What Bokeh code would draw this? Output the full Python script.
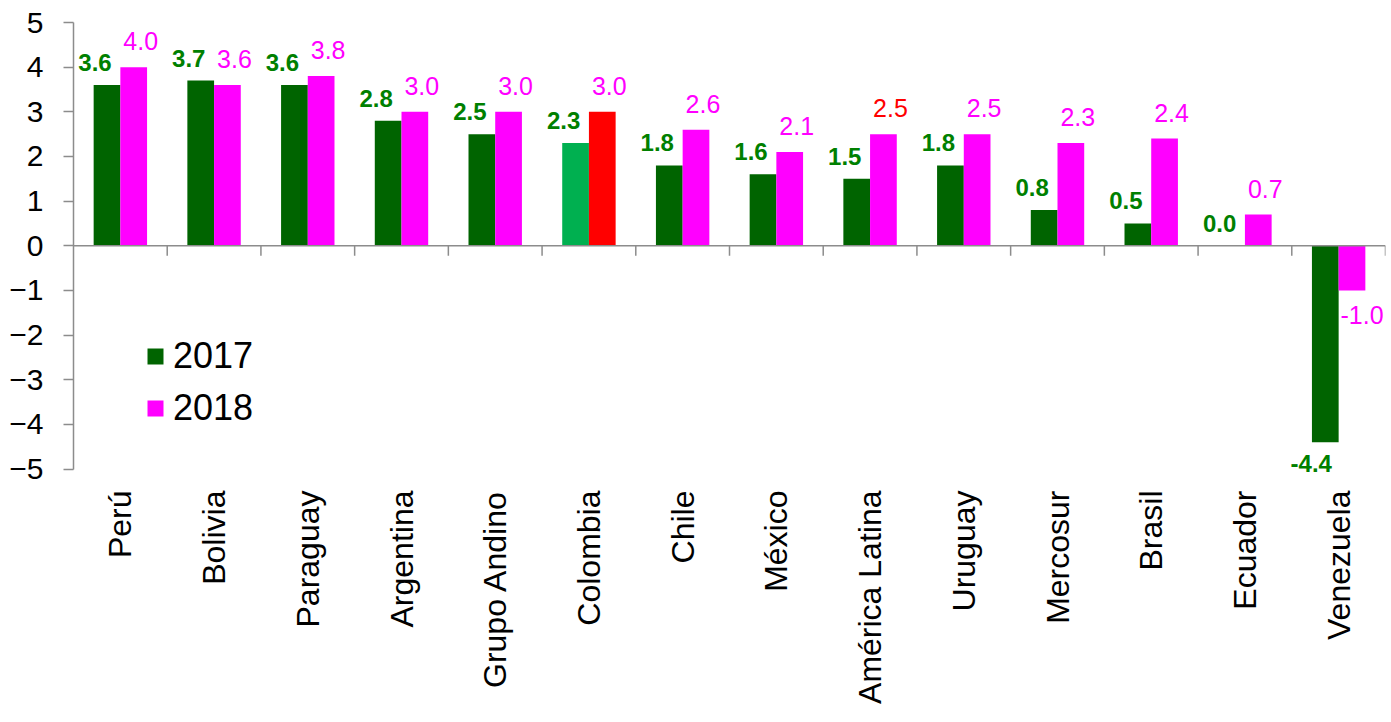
import math
from bokeh.plotting import figure
from bokeh.models import (ColumnDataSource, FactorRange, Range1d, Span, FixedTicker,
                          Legend, LegendItem, LabelSet)
from bokeh.transform import dodge
from bokeh.core.properties import value
from bokeh.embed import file_html
from bokeh.resources import INLINE

# Growth by country / bloc (%)
categories = ["Perú", "Bolivia", "Paraguay", "Argentina", "Grupo Andino", "Colombia",
              "Chile", "México", "América Latina", "Uruguay", "Mercosur", "Brasil",
              "Ecuador", "Venezuela"]
values_2017 = [3.6, 3.7, 3.6, 2.8, 2.5, 2.3, 1.8, 1.6, 1.5, 1.8, 0.8, 0.5, 0.0, -4.4]
values_2018 = [4.0, 3.6, 3.8, 3.0, 3.0, 3.0, 2.6, 2.1, 2.5, 2.5, 2.3, 2.4, 0.7, -1.0]
y_ticks = [-5, -4, -3, -2, -1, 0, 1, 2, 3, 4, 5]

GREEN = "#006400"
MAGENTA = "#ff00ff"
HL_GREEN = "#00b050"
HL_RED = "#ff0000"
LABEL_GREEN = "#008000"
FONT = "Liberation Sans"
AXIS_GREY = "#8c8c8c"

bar_17 = [HL_GREEN if c == "Colombia" else GREEN for c in categories]
bar_18 = [HL_RED if c == "Colombia" else MAGENTA for c in categories]
lab_18 = [HL_RED if c == "América Latina" else MAGENTA for c in categories]

W, H = 1391, 722
# a little room under -5 so the lowest value label is not clipped
p = figure(width=W, height=H, x_range=FactorRange(factors=categories, range_padding=0),
           y_range=Range1d(-5.3, 5), output_backend="svg", toolbar_location=None,
           min_border_left=73, min_border_right=6, min_border_top=22, min_border_bottom=240)
p.outline_line_color = None
p.xgrid.visible = False
p.ygrid.visible = False
p.background_fill_color = "white"
p.border_fill_color = "white"

BW = 0.285
src = ColumnDataSource(dict(cat=categories, v17=values_2017, v18=values_2018,
                            c17=bar_17, c18=bar_18))
r17 = p.vbar(x=dodge("cat", -BW / 2, range=p.x_range), top="v17", bottom=0, width=BW,
             fill_color="c17", line_color=None, source=src)
r18 = p.vbar(x=dodge("cat", BW / 2, range=p.x_range), top="v18", bottom=0, width=BW,
             fill_color="c18", line_color=None, source=src)

# zero line with category boundary ticks
p.add_layout(Span(location=0, dimension="width", line_color=AXIS_GREY, line_width=1.5))
tick_src = ColumnDataSource(dict(cat=categories, y0=[0] * len(categories),
                                 y1=[-0.224] * len(categories)))
p.segment(x0=dodge("cat", 0.5, range=p.x_range), x1=dodge("cat", 0.5, range=p.x_range),
          y0="y0", y1="y1", line_color=AXIS_GREY, line_width=1.5, source=tick_src)


def label_source(vals, colors, keep):
    rows = [(c, v, f"{v:.1f}", col) for c, v, col in zip(categories, vals, colors) if keep(v)]
    return ColumnDataSource(dict(cat=[r[0] for r in rows], y=[r[1] for r in rows],
                                 txt=[r[2] for r in rows], col=[r[3] for r in rows]))


pos = lambda v: v >= 0
neg = lambda v: v < 0
lab_17 = [LABEL_GREEN] * len(categories)

# 2017 labels (bold green)
p.add_layout(LabelSet(x=dodge("cat", -BW / 2, range=p.x_range), y="y", text="txt",
                      source=label_source(values_2017, lab_17, pos), text_color="col",
                      text_font=value(FONT), text_font_size="24px", text_font_style="bold",
                      text_align="center", text_baseline="alphabetic",
                      x_offset=-12, y_offset=14))
p.add_layout(LabelSet(x=dodge("cat", -BW / 2, range=p.x_range), y="y", text="txt",
                      source=label_source(values_2017, lab_17, neg), text_color="col",
                      text_font=value(FONT), text_font_size="24px", text_font_style="bold",
                      text_align="center", text_baseline="top",
                      x_offset=-14, y_offset=-13))
# 2018 labels
p.add_layout(LabelSet(x=dodge("cat", BW / 2, range=p.x_range), y="y", text="txt",
                      source=label_source(values_2018, lab_18, pos), text_color="col",
                      text_font=value(FONT), text_font_size="25px",
                      text_align="center", text_baseline="alphabetic",
                      x_offset=7, y_offset=17))
p.add_layout(LabelSet(x=dodge("cat", BW / 2, range=p.x_range), y="y", text="txt",
                      source=label_source(values_2018, lab_18, neg), text_color="col",
                      text_font=value(FONT), text_font_size="25px",
                      text_align="center", text_baseline="top",
                      x_offset=10, y_offset=-16))

# axes
p.yaxis.ticker = FixedTicker(ticks=y_ticks)
p.yaxis.bounds = (-5, 5)
p.yaxis.minor_tick_line_color = None
p.yaxis.major_tick_in = 0
p.yaxis.major_tick_out = 10
p.yaxis.major_tick_line_color = AXIS_GREY
p.yaxis.major_tick_line_width = 1.5
p.yaxis.axis_line_color = AXIS_GREY
p.yaxis.axis_line_width = 1.5
p.yaxis.major_label_text_font = FONT
p.yaxis.major_label_text_font_size = "30px"
p.yaxis.major_label_text_color = "black"
p.yaxis.major_label_standoff = 20

p.xaxis.axis_line_color = None
p.xaxis.major_tick_line_color = None
p.xaxis.major_tick_out = 0
p.xaxis.major_tick_in = 0
p.xaxis.major_label_orientation = math.pi / 2
p.xaxis.major_label_text_font = FONT
p.xaxis.major_label_text_font_size = "32px"
p.xaxis.major_label_text_color = "black"
p.xaxis.major_label_standoff = 8

legend = Legend(items=[LegendItem(label="2017", renderers=[r17], index=0),
                       LegendItem(label="2018", renderers=[r18], index=0)],
                location=(72, 53), orientation="vertical",
                glyph_width=20, glyph_height=20, label_standoff=8, spacing=10,
                padding=0, margin=0, border_line_color=None, background_fill_alpha=0,
                label_text_font=FONT, label_text_font_size="36px",
                label_text_color="black")
p.add_layout(legend, "center")

open("out.html", "w").write(file_html(p, INLINE))
